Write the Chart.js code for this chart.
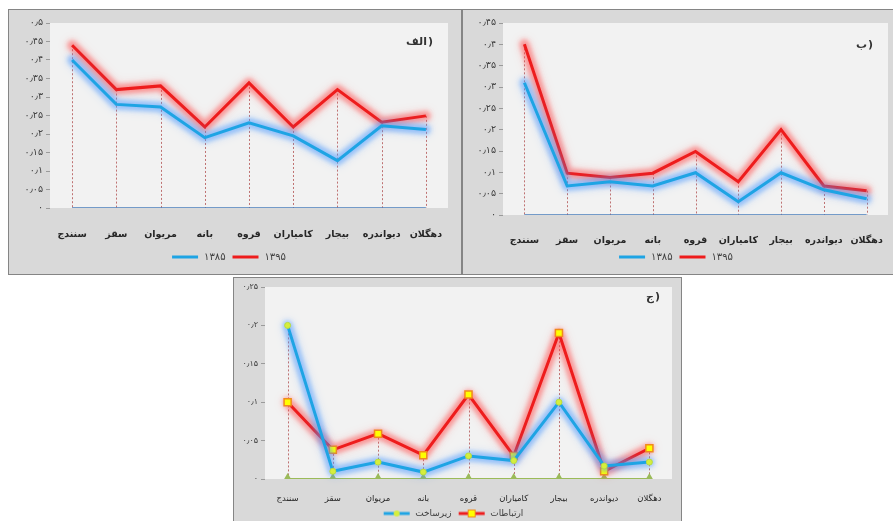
<!DOCTYPE html>
<html>
<head>
<meta charset="utf-8">
<script src="https://cdn.jsdelivr.net/npm/chart.js@4.4.1/dist/chart.umd.min.js"></script>
<style>
  html, body { margin: 0; padding: 0; background: #fff; overflow: hidden; width: 893px; height: 521px; }
  .panel { position: absolute; background: #d9d9d9; border: 1px solid #858585; box-sizing: border-box; }
  .panel canvas { display: block; }
  #pa { left: 8px; top: 9px; width: 454px; height: 266px; }
  #pb { left: 462px; top: 9px; width: 436px; height: 266px; }
  #pc { left: 233px; top: 277px; width: 449px; height: 254px; }
</style>
</head>
<body>
<div class="panel" id="pa"><canvas id="chartA" width="452" height="264"></canvas></div>
<div class="panel" id="pb"><canvas id="chartB" width="434" height="264"></canvas></div>
<div class="panel" id="pc"><canvas id="chartC" width="447" height="252"></canvas></div>
<script>
// شهرستان‌ها
const cities = ['سنندج', 'سقز', 'مریوان', 'بانه', 'قروه', 'کامیاران', 'بیجار', 'دیواندره', 'دهگلان'];

// الف)
const a1385 = [0.40, 0.28, 0.273, 0.19, 0.23, 0.195, 0.128, 0.222, 0.212];
const a1395 = [0.44, 0.32, 0.33, 0.219, 0.338, 0.219, 0.32, 0.232, 0.249];
// ب)
const b1385 = [0.31, 0.068, 0.078, 0.068, 0.099, 0.031, 0.099, 0.059, 0.038];
const b1395 = [0.40, 0.098, 0.088, 0.098, 0.149, 0.078, 0.20, 0.068, 0.057];
// ج)
const cInfra = [0.20, 0.01, 0.022, 0.009, 0.03, 0.024, 0.10, 0.017, 0.022];
const cComm = [0.10, 0.038, 0.059, 0.031, 0.11, 0.03, 0.19, 0.01, 0.04];
const zeros = [0, 0, 0, 0, 0, 0, 0, 0, 0];

const yearLabels = ['۱۳۸۵', '۱۳۹۵'];
const cLabels = ['زیرساخت', 'ارتباطات'];
const yMaxA = 0.5, yMaxB = 0.45, yMaxC = 0.25, yStep = 0.05;

const BLUE = '#1ea4e4', RED = '#ee1c1c';
const FONT = '"DejaVu Sans", sans-serif';

// عدد به رقم فارسی
function faNum(v) {
    const s = String(Number(v.toFixed(2)));
    return s.replace(/\d/g, d => '۰۱۲۳۴۵۶۷۸۹'[d]).replace('.', '٫');
}

// legend icon: line (+ marker)
function makeIcon(color, marker) {
    const c = document.createElement('canvas');
    c.width = 28; c.height = 12;
    const g = c.getContext('2d');
    g.strokeStyle = color; g.lineWidth = 3;
    g.beginPath(); g.moveTo(1, 6); g.lineTo(27, 6); g.stroke();
    if (marker === 'circle') {
        g.fillStyle = '#d6ee3c'; g.beginPath(); g.arc(14, 6, 3, 0, Math.PI * 2); g.fill();
    } else if (marker === 'rect') {
        g.fillStyle = '#ffff00'; g.strokeStyle = '#f08a1c'; g.lineWidth = 1;
        g.fillRect(10, 2, 8, 8); g.strokeRect(10.5, 2.5, 7, 7);
    }
    return c;
}

const bgPlugin = {
    id: 'plotBg',
    beforeDraw(chart) {
        const { ctx, chartArea: a } = chart;
        ctx.save();
        ctx.fillStyle = '#f2f2f2';
        ctx.fillRect(a.left, a.top, a.right - a.left, a.bottom - a.top);
        ctx.restore();
    }
};

// خطوط عمودی نقطه‌چین
const dropLines = {
    id: 'dropLines',
    beforeDatasetsDraw(chart) {
        const { ctx, scales: { x, y } } = chart;
        ctx.save();
        ctx.strokeStyle = 'rgba(170,60,60,0.7)';
        ctx.lineWidth = 1;
        ctx.setLineDash([2, 2]);
        chart.data.labels.forEach((_, i) => {
            const top = Math.max(...chart.data.datasets.map(d => d.data[i]));
            const px = Math.round(x.getPixelForValue(i)) + 0.5;
            ctx.beginPath();
            ctx.moveTo(px, y.getPixelForValue(top));
            ctx.lineTo(px, y.getPixelForValue(0));
            ctx.stroke();
        });
        ctx.restore();
    }
};

// هاله دور خطوط
const glow = {
    id: 'glow',
    beforeDatasetDraw(chart, args) {
        const ds = chart.data.datasets[args.index];
        const ctx = chart.ctx;
        if (ds.glow) {
            const pts = args.meta.data;
            ctx.save();
            ctx.strokeStyle = ds.glow;
            ctx.lineWidth = 10;
            ctx.lineJoin = 'round';
            ctx.lineCap = 'round';
            ctx.shadowColor = ds.glow;
            ctx.shadowBlur = 8;
            ctx.filter = 'blur(2px)';
            ctx.beginPath();
            pts.forEach((p, i) => i ? ctx.lineTo(p.x, p.y) : ctx.moveTo(p.x, p.y));
            ctx.stroke();
            ctx.restore();
        }
    }
};

// الف) ب) ج)
const cornerLabel = {
    id: 'cornerLabel',
    afterDraw(chart, args, opts) {
        const { ctx, chartArea: a } = chart;
        const x = a.right - opts.dx, y = a.top + opts.dy;
        ctx.save();
        ctx.font = 'bold 11px ' + FONT;
        ctx.fillStyle = '#333';
        ctx.textAlign = 'right';
        ctx.textBaseline = 'middle';
        ctx.fillText(')', x, y);
        ctx.fillText(opts.text, x - ctx.measureText(')').width - 1, y);
        ctx.restore();
    }
};

function makeChart(id, cfg) {
    const icons = cfg.icons;
    return new Chart(document.getElementById(id), {
        type: 'line',
        data: { labels: cities, datasets: cfg.datasets },
        options: {
            responsive: false,
            animation: false,
            layout: { padding: cfg.padding },
            elements: { line: { tension: 0 } },
            scales: {
                x: {
                    offset: true,
                    grid: { display: false },
                    border: { display: false },
                    ticks: { color: '#262626', padding: cfg.xPad, autoSkip: false, maxRotation: 0,
                             font: { family: FONT, size: cfg.xFont, weight: cfg.xWeight } },
                    afterFit: s => { s.height = cfg.xHeight; }
                },
                y: {
                    min: 0, max: cfg.yMax,
                    grid: { drawOnChartArea: false, tickLength: 4, color: '#9a9a9a' },
                    border: { display: false },
                    ticks: { stepSize: yStep, color: '#404040', padding: 3, font: { family: FONT, size: cfg.yFont }, callback: v => faNum(v) },
                    afterFit: s => { s.width = cfg.yWidth; }
                }
            },
            plugins: {
                tooltip: { enabled: false },
                legend: {
                    position: 'bottom',
                    labels: {
                        usePointStyle: true,
                        pointStyleWidth: 28,
                        padding: 6,
                        color: '#404040',
                        font: { family: FONT, size: cfg.legendFont },
                        filter: item => item.datasetIndex < 2,
                        generateLabels: chart => Chart.defaults.plugins.legend.labels.generateLabels(chart)
                            .map(it => Object.assign(it, { pointStyle: icons[it.datasetIndex] }))
                    }
                },
                cornerLabel: cfg.corner
            }
        },
        plugins: [bgPlugin, dropLines, glow, cornerLabel]
    });
}

makeChart('chartA', {
    datasets: [
        { label: yearLabels[0], data: a1385, borderColor: BLUE, borderWidth: 3, pointRadius: 0, glow: 'rgba(70,150,255,0.45)' },
        { label: yearLabels[1], data: a1395, borderColor: RED, borderWidth: 3, pointRadius: 0, glow: 'rgba(255,70,70,0.45)' },
        { label: 'base', data: zeros, borderColor: '#4a7ebb', borderWidth: 1.5, pointRadius: 0 }
    ],
    icons: [makeIcon(BLUE), makeIcon(RED)],
    padding: { left: 0, top: 13, right: 13, bottom: 2 },
    yMax: yMaxA, yWidth: 41, yFont: 9.5,
    xPad: 13, xFont: 9.5, xWeight: 'bold', xHeight: 38, legendFont: 10,
    corner: { text: 'الف', dx: 15, dy: 19 }
});

makeChart('chartB', {
    datasets: [
        { label: yearLabels[0], data: b1385, borderColor: BLUE, borderWidth: 3, pointRadius: 0, glow: 'rgba(70,150,255,0.45)' },
        { label: yearLabels[1], data: b1395, borderColor: RED, borderWidth: 3, pointRadius: 0, glow: 'rgba(255,70,70,0.45)' },
        { label: 'base', data: zeros, borderColor: '#4a7ebb', borderWidth: 1.5, pointRadius: 0 }
    ],
    icons: [makeIcon(BLUE), makeIcon(RED)],
    padding: { left: 0, top: 13, right: 9, bottom: 2 },
    yMax: yMaxB, yWidth: 40, yFont: 9.5,
    xPad: 12, xFont: 9.5, xWeight: 'bold', xHeight: 31, legendFont: 10,
    corner: { text: 'ب', dx: 15, dy: 22 }
});

makeChart('chartC', {
    datasets: [
        { label: cLabels[0], data: cInfra, borderColor: BLUE, borderWidth: 3, glow: 'rgba(70,150,255,0.45)',
          pointStyle: 'circle', pointRadius: 3, backgroundColor: '#d6ee3c', pointBorderColor: '#b8dc40', pointBorderWidth: 1 },
        { label: cLabels[1], data: cComm, borderColor: RED, borderWidth: 3, glow: 'rgba(255,70,70,0.45)',
          pointStyle: 'rect', pointRadius: 5, backgroundColor: '#ffff00', pointBorderColor: '#f08a1c', pointBorderWidth: 1.5 },
        { label: 'base', data: zeros, borderColor: '#9bbb59', borderWidth: 2,
          pointStyle: 'triangle', pointRadius: 4, backgroundColor: '#9bbb59', pointBorderColor: '#9bbb59' }
    ],
    icons: [makeIcon(BLUE, 'circle'), makeIcon(RED, 'rect')],
    padding: { left: 0, top: 9, right: 9, bottom: 2 },
    yMax: yMaxC, yWidth: 31, yFont: 8,
    xPad: 7, xFont: 8.5, xWeight: 'normal', xHeight: 24, legendFont: 9,
    corner: { text: 'ج', dx: 12, dy: 10 }
});
</script>
</body>
</html>
